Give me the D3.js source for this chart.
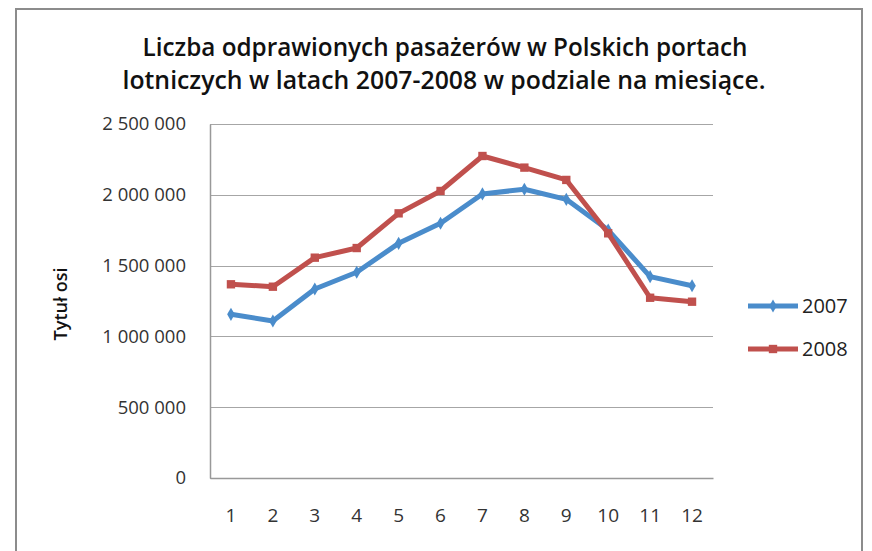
<!DOCTYPE html>
<html>
<head>
<meta charset="utf-8">
<script src="https://cdn.jsdelivr.net/npm/d3@7"></script>
<style>
  body { margin: 0; background: #fff; }
</style>
</head>
<body>
<svg id="chart"></svg>
<script>
var months = ["1","2","3","4","5","6","7","8","9","10","11","12"];
var pax2007 = [1156000, 1109000, 1335000, 1453000, 1657000, 1799000, 2006000, 2039000, 1968000, 1751000, 1422000, 1358000];
var pax2008 = [1368000, 1351000, 1556000, 1624000, 1869000, 2027000, 2274000, 2192000, 2105000, 1728000, 1273000, 1245000];
var yTicks = [0, 500000, 1000000, 1500000, 2000000, 2500000];
var titleLines = ["Liczba odprawionych pasażerów w Polskich portach",
                  "lotniczych w latach 2007-2008 w podziale na miesiące."];

var font = "'Open Sans', 'Noto Sans', sans-serif";
var width = 872, height = 551;
var margin = {top: 124, right: 159, bottom: 73, left: 210};
var w = width - margin.left - margin.right;
var h = height - margin.top - margin.bottom;

var svg = d3.select('#chart')
    .attr('width', width)
    .attr('height', height)
    .style("font-family", font);

// frame of the chart
svg.append("rect")
    .attr("x", 16).attr("y", 9)
    .attr("width", 846).attr("height", 560)
    .attr("fill", "#fff")
    .attr("stroke", "#8c8c8c")
    .attr("stroke-width", 2);

// title, stretched to the width it has in the picture
var titleSpec = [{cx: 445, y: 56, len: 605}, {cx: 444, y: 89, len: 643}];
svg.selectAll(".title")
    .data(titleLines)
    .enter()
    .append("text")
    .attr("x", function(d, i) { return titleSpec[i].cx - titleSpec[i].len / 2; })
    .attr("y", function(d, i) { return titleSpec[i].y; })
    .attr("textLength", function(d, i) { return titleSpec[i].len; })
    .attr("lengthAdjust", "spacingAndGlyphs")
    .attr("font-size", 25)
    .attr("font-weight", 600)
    .attr("fill", "#111")
    .text(function(d) { return d; });

var g = svg.append('g')
    .attr('transform', "translate(" + margin.left + "," + margin.top + ")");

var x = d3.scaleBand().domain(months).range([0, w]);
var y = d3.scaleLinear().domain([0, 2500000]).range([h, 0]);

var fmt = function(v) { return d3.format(",")(v).replace(/,/g, " "); };

// gridlines
g.append("g")
    .selectAll("line")
    .data(yTicks)
    .enter()
    .append("line")
    .attr("x1", 0).attr("x2", w)
    .attr("y1", function(d) { return Math.round(y(d)) + 0.5; })
    .attr("y2", function(d) { return Math.round(y(d)) + 0.5; })
    .attr("stroke", "#a6a6a6")
    .attr("stroke-width", 1.2);

var yAxis = g.append("g")
    .call(d3.axisLeft(y).tickValues(yTicks).tickFormat(fmt).tickSize(0).tickPadding(24));
yAxis.select(".domain").attr("stroke", "#999").attr("stroke-width", 1.5);
yAxis.selectAll("text").attr("font-size", 18.5).attr("fill", "#333")
    .attr("font-family", font);

var xAxis = g.append("g")
    .attr("transform", "translate(0," + h + ")")
    .call(d3.axisBottom(x).tickSize(0));
xAxis.select(".domain").attr("stroke", "#999").attr("stroke-width", 1.5);
xAxis.selectAll("text").attr("font-size", 19).attr("fill", "#333")
    .attr("font-family", font)
    .attr("y", 37).attr("dy", "0.35em");

svg.append("text")
    .attr("transform", "translate(67,304) rotate(-90)")
    .attr("text-anchor", "middle")
    .attr("font-size", 18)
    .attr("font-weight", 600)
    .attr("fill", "#111")
    .text("Tytuł osi");

var series = [
    {name: "2007", values: pax2007, color: "#4a8ccb", marker: "diamond"},
    {name: "2008", values: pax2008, color: "#c0504d", marker: "square"}
];

var line = d3.line()
    .x(function(d, i) { return x(months[i]) + x.bandwidth() / 2; })
    .y(function(d) { return y(d); });

function marker(s) {
    return d3.symbol()
        .type(s.marker === "square" ? d3.symbolSquare : d3.symbolDiamond)
        .size(s.marker === "square" ? 70 : 50)();
}

series.forEach(function(s) {
    g.append("path")
        .datum(s.values)
        .attr("fill", "none")
        .attr("stroke", s.color)
        .attr("stroke-width", 5)
        .attr("stroke-linejoin", "round")
        .attr("d", line);

    g.selectAll(".m" + s.name)
        .data(s.values)
        .enter()
        .append("path")
        .attr("d", marker(s))
        .attr("transform", function(d, i) {
            return "translate(" + (x(months[i]) + x.bandwidth() / 2) + "," + y(d) + ")";
        })
        .attr("fill", s.color);
});

// legend
var legend = svg.selectAll(".legend")
    .data(series)
    .enter()
    .append("g")
    .attr("transform", function(d, i) { return "translate(748," + (306 + i * 43) + ")"; });

legend.append("line")
    .attr("x1", 0).attr("x2", 50)
    .attr("stroke", function(d) { return d.color; })
    .attr("stroke-width", 5);

legend.append("path")
    .attr("d", function(d) { return marker(d); })
    .attr("transform", "translate(25,0)")
    .attr("fill", function(d) { return d.color; });

legend.append("text")
    .attr("x", 54)
    .attr("dy", "0.35em")
    .attr("font-size", 20)
    .attr("fill", "#222")
    .text(function(d) { return d.name; });
</script>
</body>
</html>
